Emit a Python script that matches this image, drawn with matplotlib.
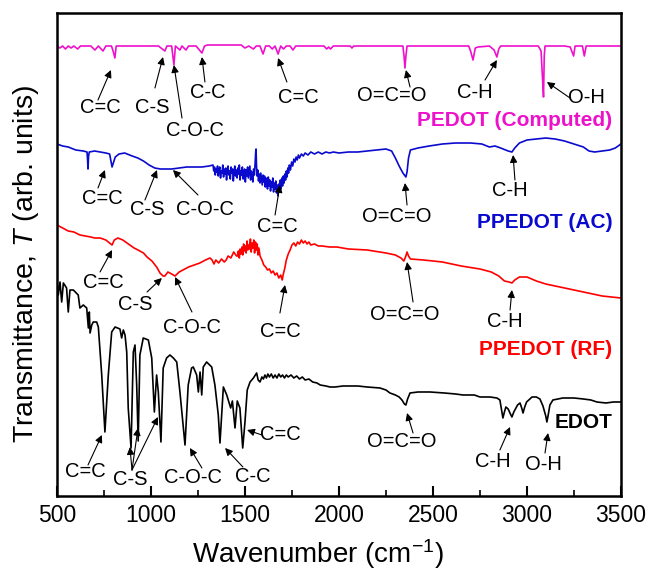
import matplotlib
matplotlib.use('Agg')
import matplotlib.pyplot as plt

plt.rcParams['font.family'] = ['Liberation Sans', 'DejaVu Sans']
plt.rcParams['mathtext.fontset'] = 'custom'
plt.rcParams['mathtext.rm'] = 'Liberation Sans'
plt.rcParams['mathtext.it'] = 'Liberation Sans:italic'

# spectra (wavenumber, transmittance in arb. units, offset stacked)
pedot_wn = [500, 515, 530, 545, 560, 575, 590, 610, 625, 640, 680, 702, 720, 745, 760, 790, 800, 808, 815,
            900, 1000, 1040, 1060, 1074, 1085, 1110, 1122, 1130, 1154, 1165, 1186, 1200, 1240, 1271, 1285,
            1300, 1480, 1500, 1520, 1545, 1560, 1580, 1596, 1610, 1630, 1645, 1660, 1676, 1690, 1705, 1720,
            1740, 1755, 1770, 1920, 1935, 1945, 1955, 1970, 2060, 2069, 2078, 2340, 2346, 2351, 2356, 2362,
            2690, 2700, 2713, 2725, 2740, 2800, 2825, 2840, 2850, 2860, 3060, 3075, 3082, 3088, 3092, 3096,
            3200, 3230, 3240, 3248, 3256, 3295, 3305, 3315, 3500]
pedot_t = [450, 448, 450, 447, 450, 448, 450, 447, 450, 450, 450, 446, 450, 445, 450, 450, 444, 438, 450,
           450, 450, 450, 447, 445, 450, 450, 431, 450, 446, 450, 446, 450, 450, 443, 450,
           451, 451, 448, 450, 447, 450, 450, 442, 450, 450, 447, 450, 442, 450, 447, 450,
           450, 446, 450, 450, 447, 449, 447, 450, 450, 448, 450, 450, 440, 428, 440, 450,
           450, 445, 436, 448, 449, 450, 446, 439, 447, 450, 450, 445, 420, 399, 440, 450,
           450, 449, 444, 440, 450, 450, 440, 450, 450]

ac_wn = [500, 530, 560, 600, 640, 660, 663, 665, 668, 672, 700, 730, 760, 780, 787, 793, 800, 810, 830, 860,
         900, 930, 960, 990, 1020, 1050, 1080, 1110, 1150, 1190, 1230, 1270, 1310,
         1330, 1334, 1338, 1342, 1346, 1350, 1354, 1358, 1362, 1366, 1370, 1374, 1378, 1382, 1386, 1390,
         1394, 1398, 1402, 1406, 1410, 1414, 1418, 1422, 1426, 1430, 1434, 1438, 1442, 1446, 1450, 1454,
         1458, 1462, 1466, 1470, 1474, 1478, 1482, 1486, 1490, 1494, 1498, 1502, 1506, 1510, 1514, 1518,
         1522, 1526, 1530, 1534, 1538, 1542, 1546, 1550, 1554,
         1557, 1559, 1561, 1564, 1568, 1572, 1576,
         1580, 1584, 1588, 1592, 1596, 1600, 1604, 1608, 1612, 1616, 1620, 1624, 1628, 1632, 1636, 1640,
         1644, 1648, 1652, 1656, 1660, 1664, 1668, 1672, 1676, 1680, 1684, 1688, 1692, 1696, 1700, 1704,
         1708, 1712, 1716, 1720, 1724, 1728, 1732, 1736,
         1742, 1748, 1754, 1760, 1766, 1772, 1778, 1784, 1790, 1800,
         1810, 1820, 1835, 1850, 1870, 1890, 1910, 1930, 1950, 1970, 2000, 2050, 2100,
         2150, 2200, 2250, 2280, 2300, 2320, 2340, 2356, 2362, 2370, 2380, 2420, 2480, 2550, 2620, 2700,
         2760, 2800, 2830, 2860, 2900, 2920, 2935, 2960, 3000, 3050, 3100, 3150, 3200, 3250, 3300, 3330,
         3360, 3400, 3440, 3470, 3500]
ac_t = [352, 350, 349, 346, 345, 344, 335, 327, 340, 344, 345, 344, 343, 342, 335, 329, 333, 339, 342, 343,
        340, 338, 335, 331, 328, 327, 327, 327, 328, 329, 329, 329, 330,
        331, 325, 329, 321, 327, 324, 330, 320, 326, 329, 318, 325, 323, 331, 319, 327,
        322, 328, 316, 326, 330, 321, 325, 317, 329, 323, 327, 315, 324, 330, 320, 326,
        318, 328, 322, 331, 316, 325, 321, 329, 317, 323, 327, 314, 326, 320, 329, 318,
        324, 330, 316, 325, 320, 314, 327, 321, 333,
        344, 347, 332, 320, 326, 315, 322,
        313, 323, 317, 311, 321, 314, 320, 309, 318, 312, 307, 319, 310, 316, 305, 314,
        309, 318, 304, 313, 307, 315, 303, 311, 300, 312, 305, 316, 307, 318, 310, 320,
        313, 322, 316, 325, 319, 328, 323, 331,
        326, 334, 330, 337, 334, 339, 336, 341, 338, 342,
        340, 343, 341, 344, 342, 344, 342, 344, 343, 344, 343, 344, 344,
        345, 346, 347, 345, 338, 330, 323, 319, 324, 338, 346, 348, 350, 352, 353, 353,
        352, 349, 350, 348, 345, 344, 348, 353, 356, 357, 358, 357, 355, 352, 349, 345,
        344, 345, 346, 348, 352]

rf_wn = [500, 530, 560, 590, 622, 650, 680, 700, 730, 760, 780, 793, 805, 824, 850, 880, 910, 931, 960, 979,
         1005, 1030, 1048, 1064, 1074, 1090, 1110, 1128, 1150, 1170, 1200, 1230, 1260, 1290, 1314, 1325,
         1335, 1345, 1360, 1375, 1390, 1400, 1410, 1425, 1440, 1455,
         1460, 1465, 1470, 1474, 1479, 1484, 1488, 1493, 1497, 1502, 1506, 1511, 1515, 1520, 1524, 1529,
         1533, 1538, 1542, 1547, 1551, 1556, 1560, 1565, 1569, 1574, 1580, 1590, 1600, 1610, 1620, 1630,
         1640, 1650, 1660, 1670, 1680, 1690,
         1698, 1704, 1712, 1720, 1730, 1740, 1750, 1760, 1770, 1780, 1790, 1800, 1810, 1820, 1830, 1840,
         1850, 1870, 1890, 1910, 1950, 1989, 2050, 2150, 2250, 2300, 2330, 2345, 2356, 2362, 2370, 2380,
         2450, 2550, 2650, 2750, 2810, 2850, 2880, 2905, 2920, 2935, 2960, 3000, 3050, 3100, 3150, 3200,
         3250, 3300, 3350, 3400, 3450, 3500]
rf_t = [271, 268, 265, 264, 261, 260, 259, 258, 258, 256, 253, 251, 256, 258, 256, 252, 248, 246, 243, 239,
        235, 229, 223, 220, 220, 224, 222, 220, 224, 226, 229, 231, 233, 236, 238, 236,
        232, 236, 233, 237, 234, 236, 240, 238, 244, 240,
        240, 245, 238, 247, 242, 249, 241, 252, 245, 250, 243, 255, 246, 251, 247, 257,
        244, 253, 248, 256, 243, 254, 246, 252, 241, 248, 240, 236, 231, 229, 226, 227,
        223, 225, 221, 223, 218, 221,
        216, 222, 228, 236, 242, 246, 251, 253, 250, 254, 252, 256, 253, 255, 252, 254,
        251, 252, 250, 250, 249, 249, 247, 246, 243, 241, 238, 235, 240, 244, 240, 237,
        236, 234, 230, 227, 224, 220, 215, 214, 213, 216, 219, 219, 215, 212, 210, 208,
        206, 204, 202, 200, 199, 198]

edot_wn = [500, 507, 516, 525, 534, 551, 560, 569, 587, 613, 622, 640, 658, 667, 672, 676, 685, 693, 711,
           720, 738, 755, 773, 791, 809, 835, 844, 853, 862, 871, 879, 894, 906, 915, 924, 932, 941, 959,
           986, 1004, 1018, 1030, 1039, 1053, 1065, 1083, 1101, 1119, 1137, 1154, 1181, 1198, 1216, 1225,
           1243, 1252, 1261, 1270, 1278, 1296, 1323, 1340, 1358, 1367, 1385, 1403, 1424, 1433, 1447, 1459,
           1473, 1488, 1500, 1512, 1527, 1545, 1562, 1570, 1580, 1590, 1598, 1606, 1614, 1622, 1630, 1640,
           1650, 1660, 1670, 1680, 1690, 1700, 1710, 1720, 1730, 1745, 1760, 1775, 1790, 1805, 1820, 1840,
           1860, 1883, 1900, 1930, 1952, 1980, 2021, 2100, 2150, 2218, 2250, 2271, 2300, 2320, 2335, 2348,
           2356, 2365, 2378, 2420, 2484, 2560, 2620, 2660, 2720, 2750, 2803, 2840, 2856, 2866, 2872, 2880,
           2888, 2900, 2912, 2920, 2930, 2950, 2963, 2972, 2979, 2988, 2998, 3027, 3050, 3069, 3085, 3100,
           3106, 3112, 3122, 3138, 3191, 3250, 3300, 3340, 3372, 3420, 3460, 3500]
edot_t = [214, 201, 214, 194, 213, 208, 184, 206, 206, 201, 188, 191, 188, 168, 184, 163, 171, 174, 174,
          169, 121, 64, 121, 164, 169, 167, 158, 166, 161, 144, 88, 48, 144, 151, 111, 55, 141, 158,
          156, 138, 84, 121, 104, 54, 128, 138, 141, 138, 134, 104, 51, 111, 128, 129,
          121, 104, 124, 101, 129, 134, 129, 111, 81, 53, 109, 101, 88, 95, 68, 95,
          88, 48, 74, 106, 114, 118, 123, 116, 114, 119, 117, 121, 118, 122, 119, 122,
          118, 121, 118, 122, 119, 121, 118, 121, 119, 121, 118, 120, 117, 119, 116, 117,
          114, 113, 111, 110, 109, 109, 110, 110, 109, 108, 106, 103, 101, 99, 96, 92,
          91, 97, 103, 104, 104, 103, 102, 101, 101, 99, 99, 98, 96, 85, 78, 84,
          89, 87, 82, 79, 84, 91, 93, 88, 83, 89, 94, 99, 99, 97, 90, 80,
          74, 80, 91, 96, 98, 98, 97, 96, 94, 93, 94, 94]

pink, blue, red = '#EE11CC', '#0A0ACF', '#FF0000'

fig = plt.figure(figsize=(6.49, 5.73), dpi=100)
ax = fig.add_axes([0.0878, 0.1344, 0.8690, 0.8429])

ax.plot(pedot_wn, pedot_t, color=pink, lw=1.2)
ax.plot(ac_wn, ac_t, color=blue, lw=1.2)
ax.plot(rf_wn, rf_t, color=red, lw=1.2)
ax.plot(edot_wn, edot_t, color='black', lw=1.2)

# peak labels: (text, text pos, arrow tail, arrow head)
peaks = [
    ('C=C', (729, 389), (718, 396), (787, 426)),
    ('C-S', (1005, 389), (1021, 408), (1064, 439)),
    ('C-O-C', (1234, 366), (1165, 378), (1122, 431)),
    ('C-C', (1303, 404), (1287, 414), (1271, 439)),
    ('C=C', (1782, 399), (1723, 414), (1676, 438)),
    ('O=C=O', (2282, 401), (2378, 409), (2356, 426)),
    ('C-H', (2723, 404), (2777, 416), (2840, 436)),
    ('O-H', (3319, 399), (3229, 398), (3106, 414)),
    ('C=C', (739, 298), (718, 308), (755, 326)),
    ('C-S', (979, 286), (968, 296), (1032, 326)),
    ('C-O-C', (1287, 286), (1250, 301), (1117, 326)),
    ('C=C', (1670, 269), (1660, 281), (1686, 311)),
    ('O=C=O', (2309, 279), (2362, 291), (2351, 313)),
    ('C-H', (2910, 306), (2936, 316), (2926, 341)),
    ('C=C', (745, 213), (729, 224), (793, 246)),
    ('C-S', (915, 191), (979, 204), (1058, 218)),
    ('C-O-C', (1218, 168), (1218, 184), (1128, 219)),
    ('C=C', (1686, 164), (1686, 183), (1713, 211)),
    ('O=C=O', (2351, 181), (2394, 194), (2362, 234)),
    ('C-H', (2883, 174), (2910, 186), (2920, 206)),
    ('C=C', (649, 24), (665, 31), (739, 61)),
    ('C-S', (888, 16), (899, 26), (888, 49)),
    ('', None, (899, 26), (931, 68)),
    ('', None, (899, 26), (1037, 79)),
    ('C-O-C', (1223, 18), (1271, 28), (1207, 48)),
    ('C-C', (1543, 19), (1489, 29), (1394, 48)),
    ('C=C', (1690, 61), (1590, 61), (1511, 66)),
    ('O=C=O', (2335, 54), (2394, 63), (2362, 83)),
    ('C-H', (2819, 34), (2856, 46), (2910, 69)),
    ('O-H', (3085, 31), (3096, 43), (3112, 63)),
]
for label, pos, tail, head in peaks:
    if pos is not None:
        ax.text(pos[0], pos[1], label, fontsize=14.5, ha='center', va='center')
    ax.annotate('', xy=head, xytext=tail,
                arrowprops=dict(arrowstyle='-|>', color='black', lw=0.8,
                                mutation_scale=11, shrinkA=0, shrinkB=0))

names = [('PEDOT (Computed)', 376, pink), ('PPEDOT (AC)', 273, blue),
         ('PPEDOT (RF)', 146, red), ('EDOT', 73, 'black')]
for name, yv, col in names:
    ax.text(3455, yv, name, color=col, fontsize=15, fontweight='bold', ha='right', va='center')

ax.set_xlim(500, 3500)
ax.set_ylim(0, 483)
ax.set_xticks([500, 1000, 1500, 2000, 2500, 3000, 3500])
ax.set_xticks([750, 1250, 1750, 2250, 2750, 3250], minor=True)
ax.set_yticks([])
ax.tick_params(axis='x', which='major', direction='in', length=7, width=1.5, labelsize=16.5, pad=6)
ax.tick_params(axis='x', which='minor', direction='in', length=4, width=1.2)
for s in ax.spines.values():
    s.set_linewidth(1.8)
ax.set_xlabel('Wavenumber (cm$^{-1}$)', fontsize=20)
ax.set_ylabel('Transmittance, $T$ (arb. units)', fontsize=20.5)
ax.xaxis.set_label_coords(0.463, -0.085)
ax.yaxis.set_label_coords(-0.028, 0.48)

fig.savefig('out.png', dpi=100)
